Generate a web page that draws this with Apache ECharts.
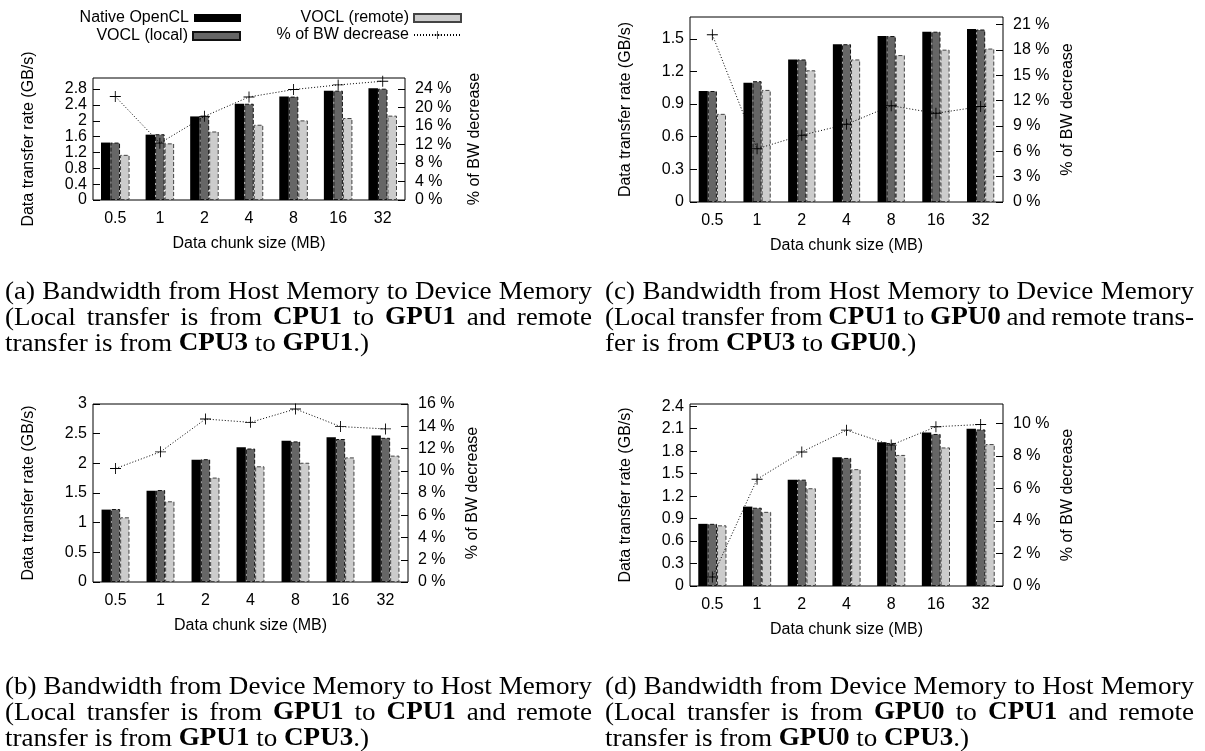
<!DOCTYPE html>
<html>
<head>
<meta charset="utf-8">
<title>VOCL bandwidth</title>
<script src="https://cdn.jsdelivr.net/npm/echarts@6/dist/echarts.min.js"></script>
<style>
html, body { margin: 0; padding: 0; background: #fff; }
#main { width: 1205px; height: 751px; }
</style>
</head>
<body>
<div id="main"></div>
<script>
// x axis categories (data chunk size, MB)
const chunks = ['0.5', '1', '2', '4', '8', '16', '32'];
const seriesNames = ['Native OpenCL', 'VOCL (local)', 'VOCL (remote)', '% of BW decrease'];

// (a) host -> device memory
const nativeA = [1.45, 1.65, 2.11, 2.43, 2.61, 2.76, 2.82];
const localA = [1.45, 1.66, 2.13, 2.43, 2.61, 2.76, 2.81];
const remoteA = [1.14, 1.43, 1.73, 1.90, 2.01, 2.07, 2.13];
const decreaseA = [22.4, 12.3, 18.1, 22.3, 23.9, 24.9, 25.7];

// (c) host -> device memory, GPU0
const nativeC = [1.02, 1.095, 1.31, 1.45, 1.525, 1.565, 1.59];
const localC = [1.02, 1.11, 1.31, 1.45, 1.525, 1.565, 1.585];
const remoteC = [0.81, 1.03, 1.21, 1.31, 1.35, 1.40, 1.41];
const decreaseC = [19.8, 6.3, 7.9, 9.2, 11.4, 10.5, 11.3];

// (b) device -> host memory
const nativeB = [1.22, 1.54, 2.06, 2.27, 2.38, 2.44, 2.47];
const localB = [1.23, 1.55, 2.07, 2.25, 2.37, 2.41, 2.43];
const remoteB = [1.09, 1.36, 1.76, 1.95, 2.01, 2.10, 2.13];
const decreaseB = [10.2, 11.7, 14.65, 14.35, 15.55, 13.97, 13.76];

// (d) device -> host memory, GPU0
const nativeD = [0.83, 1.06, 1.42, 1.72, 1.92, 2.05, 2.10];
const localD = [0.83, 1.045, 1.42, 1.71, 1.91, 2.03, 2.09];
const remoteD = [0.81, 0.99, 1.305, 1.56, 1.75, 1.85, 1.895];
const decreaseD = [0.55, 6.57, 8.25, 9.59, 8.67, 9.8, 9.94];

// captions, *...* = bold
const captionA = ['(a) Bandwidth from Host Memory to Device Memory', '(Local transfer is from *CPU1* to *GPU1* and remote', 'transfer is from *CPU3* to *GPU1*.)'];
const captionC = ['(c) Bandwidth from Host Memory to Device Memory', '(Local transfer from *CPU1* to *GPU0* and remote trans-', 'fer is from *CPU3* to *GPU0*.)'];
const captionB = ['(b) Bandwidth from Device Memory to Host Memory', '(Local transfer is from *GPU1* to *CPU1* and remote', 'transfer is from *GPU1* to *CPU3*.)'];
const captionD = ['(d) Bandwidth from Device Memory to Host Memory', '(Local transfer is from *GPU0* to *CPU1* and remote', 'transfer is from *GPU0* to *CPU3*.)'];

const SANS = '"Liberation Sans", Arial, sans-serif';
const CAP_SIZE = 25;
const CAP_LINE = 26;
const PLUS = 'path://M4.6,0H5.4V4.6H10V5.4H5.4V10H4.6V5.4H0V4.6H4.6Z';

const panels = [
  { grid: { left: 93, top: 78, width: 312, height: 122 }, yMax: 3.08, yStep: 0.4, y2Max: 26.4, y2Step: 4, gap: '36%', rGap: 62,
    data: [nativeA, localA, remoteA, decreaseA] },
  { grid: { left: 690, top: 17, width: 313, height: 185 }, yMax: 1.7, yStep: 0.3, y2Max: 21.9, y2Step: 3, gap: '39%', rGap: 57,
    data: [nativeC, localC, remoteC, decreaseC] },
  { grid: { left: 93, top: 404, width: 315, height: 178 }, yMax: 3, yStep: 0.5, y2Max: 16, y2Step: 2, gap: '38%', rGap: 57,
    data: [nativeB, localB, remoteB, decreaseB] },
  { grid: { left: 690, top: 404, width: 313, height: 182 }, yMax: 2.43, yStep: 0.3, y2Max: 11.2, y2Step: 2, gap: '37%', rGap: 57,
    data: [nativeD, localD, remoteD, decreaseD] }
];

const barStyles = [
  { color: '#000' },
  { color: '#666', borderColor: '#111', borderWidth: 1, borderType: 'dashed' },
  { color: '#ccc', borderColor: '#444', borderWidth: 1, borderType: 'dashed' }
];

const txt = { color: '#000', fontSize: 16, fontFamily: SANS };

function isMultiple(max, step) {
  return Math.abs(max / step - Math.round(max / step)) < 1e-6;
}

const grid = [], xAxis = [], yAxis = [], series = [];
panels.forEach((p, i) => {
  grid.push(Object.assign({ show: true, borderColor: '#000', borderWidth: 1, containLabel: false, outerBoundsMode: 'none' }, p.grid));
  xAxis.push({
    type: 'category', gridIndex: i, data: chunks,
    name: 'Data chunk size (MB)', nameLocation: 'middle', nameGap: 36, nameTextStyle: txt,
    axisLine: { show: false }, axisTick: { show: false },
    axisLabel: Object.assign({ margin: 11, interval: 0 }, txt)
  });
  yAxis.push({
    type: 'value', gridIndex: i, position: 'left', min: 0, max: p.yMax, interval: p.yStep,
    name: 'Data transfer rate (GB/s)', nameLocation: 'middle', nameRotate: 90, nameGap: 56, nameTextStyle: txt,
    axisLine: { show: false }, splitLine: { show: false },
    axisTick: { show: true, inside: true, length: 7, lineStyle: { color: '#000' } },
    axisLabel: Object.assign({ margin: 6, showMaxLabel: isMultiple(p.yMax, p.yStep) }, txt)
  });
  yAxis.push({
    type: 'value', gridIndex: i, position: 'right', min: 0, max: p.y2Max, interval: p.y2Step,
    name: '% of BW decrease', nameLocation: 'middle', nameRotate: 90, nameGap: p.rGap, nameTextStyle: txt,
    axisLine: { show: false }, splitLine: { show: false },
    axisTick: { show: true, inside: true, length: 7, lineStyle: { color: '#000' } },
    axisLabel: Object.assign({ margin: 10, showMaxLabel: isMultiple(p.y2Max, p.y2Step), formatter: v => v + ' %' }, txt)
  });
  for (let k = 0; k < 3; k++) {
    series.push({
      name: seriesNames[k], type: 'bar', xAxisIndex: i, yAxisIndex: 2 * i,
      data: p.data[k], barGap: '0%', barCategoryGap: p.gap,
      itemStyle: barStyles[k], emphasis: { disabled: true }
    });
  }
  series.push({
    name: seriesNames[3], type: 'line', xAxisIndex: i, yAxisIndex: 2 * i + 1,
    data: p.data[3], z: 5, symbol: PLUS, symbolSize: 11, showAllSymbol: true,
    itemStyle: { color: '#000' }, lineStyle: { color: '#000', width: 1, type: [1, 2] },
    emphasis: { disabled: true }
  });
});

// legend: text on the left, sample on the right, two columns
function legendItem(name, right, top, icon) {
  return {
    data: [icon ? { name: name, icon: icon } : name],
    right: right, top: top, align: 'right', padding: 0,
    itemWidth: 47, itemHeight: icon ? 8 : 10, selectedMode: false,
    textStyle: txt
  };
}
const legend = [
  legendItem(seriesNames[0], 964, 10, 'rect'),
  legendItem(seriesNames[1], 964, 28, 'rect'),
  legendItem(seriesNames[2], 743, 10, 'rect'),
  legendItem(seriesNames[3], 743, 27, null)
];

// captions: justified serif text, placed word by word
const ctx = document.createElement('canvas').getContext('2d');
function fontOf(bold) { return (bold ? 'bold ' : '') + CAP_SIZE + 'px "Liberation Serif", "Times New Roman", serif'; }
function measure(t, bold) { ctx.font = fontOf(bold); return ctx.measureText(t).width; }
function parseWord(w) {
  const segs = [];
  w.split('*').forEach((part, k) => { if (part) segs.push({ t: part, b: k % 2 === 1 }); });
  return segs;
}
const SPACE = measure(' ', false);
function lineWords(line) {
  const words = line.split(' ').map(parseWord);
  const widths = words.map(segs => segs.reduce((s, g) => s + measure(g.t, g.b), 0));
  return { words: words, ink: widths.reduce((a, b) => a + b, 0) };
}
// horizontal stretch so the tightest justified line still keeps ~85% of a normal space
function captionScale(blocks) {
  let sx = 2;
  blocks.forEach(b => b.lines.slice(0, -1).forEach(line => {
    const lw = lineWords(line);
    sx = Math.min(sx, b.width / (lw.ink + 0.85 * SPACE * (lw.words.length - 1)));
  }));
  return sx;
}
function captionElements(lines, x0, width, y0, sx) {
  const els = [];
  lines.forEach((line, li) => {
    const lw = lineWords(line);
    const justify = li < lines.length - 1;
    const gapW = justify ? (width - lw.ink * sx) / (lw.words.length - 1) : SPACE * sx;
    let x = x0;
    lw.words.forEach(segs => {
      segs.forEach(g => {
        els.push({
          type: 'text', x: x, y: y0 + li * CAP_LINE, scaleX: sx, silent: true,
          style: { text: g.t, font: fontOf(g.b), fill: '#000', align: 'left', verticalAlign: 'middle', textAlign: 'left', textVerticalAlign: 'middle' }
        });
        x += measure(g.t, g.b) * sx;
      });
      x += gapW;
    });
  });
  return els;
}
const capBlocks = [
  { lines: captionA, x: 5, width: 587, y: 292 },
  { lines: captionC, x: 605, width: 589, y: 292 },
  { lines: captionB, x: 5, width: 587, y: 687 },
  { lines: captionD, x: 605, width: 589, y: 687 }
];
const capScale = captionScale(capBlocks);
let graphic = [];
capBlocks.forEach(b => { graphic = graphic.concat(captionElements(b.lines, b.x, b.width, b.y, capScale)); });

const chart = echarts.init(document.getElementById('main'), null, { renderer: 'canvas' });
chart.setOption({
  animation: false,
  backgroundColor: '#fff',
  textStyle: { fontFamily: SANS, color: '#000' },
  grid: grid,
  xAxis: xAxis,
  yAxis: yAxis,
  legend: legend,
  series: series,
  graphic: graphic
});
</script>
</body>
</html>
